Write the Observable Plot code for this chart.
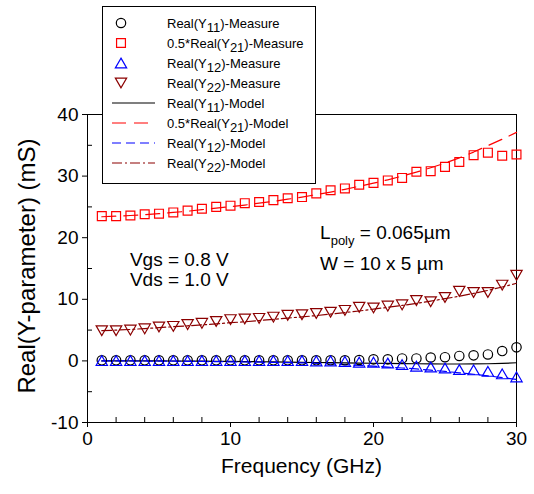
<!DOCTYPE html>
<html><head><meta charset="utf-8">
<script src="https://cdn.jsdelivr.net/npm/d3@7"></script>
<script src="https://cdn.jsdelivr.net/npm/@observablehq/plot@0.6"></script>
<style>html,body{margin:0;padding:0;background:#fff}svg{display:block}</style>
</head><body><div id="chart"></div>
<script>
// ---- data ----
const freq = [1,2,3,4,5,6,7,8,9,10,11,12,13,14,15,16,17,18,19,20,21,22,23,24,25,26,27,28,29,30];
const y11Measure = [0.1,0.1,0.1,0.1,0.1,0.1,0.1,0.1,0.1,0.1,0.1,0.1,0.1,0.1,0.1,0.1,0.1,0.1,0.15,0.25,0.25,0.4,0.4,0.55,0.6,0.8,0.9,1.05,1.6,2.2];
const y21Measure = [23.5,23.5,23.6,23.8,23.9,24.1,24.4,24.7,25.0,25.2,25.6,25.8,26.1,26.4,26.6,27.2,27.7,28.0,28.6,28.9,29.3,29.7,30.7,30.8,31.5,32.3,33.4,33.8,33.3,33.5];
const y12Measure = [0.05,0.05,0.05,0.05,0.05,0.05,0.05,0.05,0.05,0.05,0.05,0.05,0.05,0.05,0.05,0.0,0.0,-0.08,-0.2,-0.2,-0.35,-0.6,-0.85,-1.0,-1.15,-1.4,-1.45,-1.7,-2.1,-2.6];
const y22Measure = [4.9,4.9,5.0,5.2,5.5,5.6,5.9,6.1,6.4,6.7,6.8,6.9,7.1,7.4,7.5,7.7,7.9,8.2,8.7,8.6,8.9,9.1,9.8,9.6,10.3,11.3,11.1,11.1,12.3,13.9];
const y11Model = [0,0,0,0,-0.01,-0.02,-0.03,-0.05,-0.07,-0.09,-0.11,-0.14,-0.17,-0.2,-0.23,-0.26,-0.29,-0.32,-0.35,-0.38,-0.41,-0.44,-0.46,-0.48,-0.5,-0.5,-0.49,-0.46,-0.4,-0.3];
const y21Model = [23.4,23.5,23.6,23.75,23.9,24.1,24.3,24.55,24.8,25.05,25.3,25.6,25.9,26.25,26.6,27.0,27.4,27.85,28.35,28.85,29.4,30.0,30.65,31.35,32.1,32.95,33.9,34.95,36.0,37.1];
const y12Model = [0,0,-0.01,-0.02,-0.03,-0.05,-0.07,-0.09,-0.12,-0.15,-0.18,-0.21,-0.25,-0.28,-0.32,-0.4,-0.5,-0.6,-0.72,-0.85,-1.0,-1.15,-1.3,-1.5,-1.7,-1.93,-2.17,-2.43,-2.7,-3.0];
const y22Model = [4.9,5.0,5.1,5.25,5.4,5.55,5.7,5.85,6.0,6.2,6.35,6.55,6.75,6.95,7.15,7.35,7.6,7.85,8.1,8.4,8.7,9.0,9.35,9.7,10.1,10.5,10.95,11.45,12.0,12.6];

const xMajorTicks = [0,10,20,30];
const xMinorTicks = [2,4,6,8,12,14,16,18,22,24,26,28];
const yMajorTicks = [-10,0,10,20,30,40];
const yMinorTicks = [-5,5,15,25,35];

const legendLabels = [
  ["Real(Y","11",")-Measure"],
  ["0.5*Real(Y","21",")-Measure"],
  ["Real(Y","12",")-Measure"],
  ["Real(Y","22",")-Measure"],
  ["Real(Y","11",")-Model"],
  ["0.5*Real(Y","21",")-Model"],
  ["Real(Y","12",")-Model"],
  ["Real(Y","22",")-Model"]
];
const annotations = [
  {x: 3.0, y: 15.4, parts: [["Vgs = 0.8 V", false]]},
  {x: 3.0, y: 12.0, parts: [["Vds = 1.0 V", false]]},
  {x: 16.3, y: 19.7, parts: [["L", false], ["poly", true], [" = 0.065\u00b5m", false]]},
  {x: 16.3, y: 14.6, parts: [["W = 10 x 5 \u00b5m", false]]}
];

// ---- styles ----
const RED = "#ff0000", BLUE = "#0000ff", DARKRED = "#8b0000", BLACK = "#000000";
const FONT = "'Liberation Sans', Arial, Helvetica, sans-serif";
const rCircle = 4.7, rSquare = 5, rTri = 4.2;
const triShift = rTri * Math.sqrt(Math.PI / (3 * Math.sqrt(3))) / 2;

const rows = (ys) => freq.map((f, i) => ({f, v: ys[i]}));

const chart = Plot.plot({
  width: 534, height: 494,
  marginLeft: 87, marginRight: 18, marginTop: 114, marginBottom: 72,
  style: {fontFamily: FONT, fontSize: "19px", color: "black", background: "white", overflow: "visible"},
  x: {domain: [0, 30]},
  y: {domain: [-10, 40]},
  marks: [
    Plot.frame({stroke: BLACK, strokeWidth: 1}),
    Plot.axisX({ticks: xMajorTicks, tickSize: 5, tickPadding: 4, fontSize: 19, label: null, tickFormat: d => String(d)}),
    Plot.axisX({ticks: xMinorTicks, tickSize: -5, text: null, label: null}),
    Plot.axisY({ticks: yMajorTicks, tickSize: 5, tickPadding: 4, fontSize: 19, label: null, tickFormat: d => String(d)}),
    Plot.axisY({ticks: yMinorTicks, tickSize: -5, text: null, label: null}),
    Plot.line(rows(y22Model), {x: "f", y: "v", stroke: DARKRED, strokeWidth: 1.2, strokeDasharray: "10,3,2,3"}),
    Plot.line(rows(y21Model), {x: "f", y: "v", stroke: RED, strokeWidth: 1.2, strokeDasharray: "14,8"}),
    Plot.line(rows(y11Model), {x: "f", y: "v", stroke: BLACK, strokeWidth: 1.2}),
    Plot.line(rows(y12Model), {x: "f", y: "v", stroke: BLUE, strokeWidth: 1.2, strokeDasharray: "9,5"}),
    Plot.dot(rows(y21Measure), {x: "f", y: "v", symbol: "square", r: rSquare, stroke: RED, fill: "none", strokeWidth: 1.2}),
    Plot.dot(rows(y22Measure), {x: "f", y: "v", symbol: "triangle", rotate: 180, dy: -triShift, r: rTri, stroke: DARKRED, fill: "none", strokeWidth: 1.2}),
    Plot.dot(rows(y11Measure), {x: "f", y: "v", symbol: "circle", r: rCircle, stroke: BLACK, fill: "none", strokeWidth: 1.2}),
    Plot.dot(rows(y12Measure), {x: "f", y: "v", symbol: "triangle", dy: triShift, r: rTri, stroke: BLUE, fill: "none", strokeWidth: 1.2})
  ]
});
document.getElementById("chart").append(chart);

const svg = d3.select(chart);
const xs = chart.scale("x"), ys = chart.scale("y");

// axis titles
svg.append("text").attr("x", 301.5).attr("y", 473).attr("text-anchor", "middle")
  .attr("font-family", FONT).attr("font-size", 21).attr("fill", BLACK).text("Frequency (GHz)");
svg.append("text").attr("transform", "translate(35,266) rotate(-90)").attr("text-anchor", "middle")
  .attr("font-family", FONT).attr("font-size", 24).attr("fill", BLACK).text("Real(Y-parameter) (mS)");

// annotations (positioned through the plot's scales)
for (const a of annotations) {
  const t = svg.append("text").attr("x", xs.apply(a.x)).attr("y", ys.apply(a.y))
    .attr("text-anchor", "start")
    .attr("font-family", FONT).attr("font-size", 19).attr("fill", BLACK);
  let prevSub = false;
  for (const [s, sub] of a.parts) {
    const dy = sub ? 6 : (prevSub ? -6 : 0);
    const ts = t.append("tspan").attr("dy", dy).text(s);
    if (sub) ts.attr("font-size", 13);
    prevSub = sub;
  }
}

// legend
const lg = svg.append("g").attr("text-anchor", "start");
lg.append("rect").attr("x", 102.5).attr("y", 6.5).attr("width", 213).attr("height", 177)
  .attr("fill", "white").attr("stroke", BLACK).attr("stroke-width", 1);
const legendStyles = [
  {kind: "dot", sym: d3.symbolCircle, r: rCircle, color: BLACK},
  {kind: "dot", sym: d3.symbolSquare, r: rSquare, color: RED},
  {kind: "dot", sym: d3.symbolTriangle, r: rTri, color: BLUE, shift: triShift},
  {kind: "dot", sym: d3.symbolTriangle, r: rTri, color: DARKRED, rotate: 180, shift: -triShift},
  {kind: "line", color: BLACK, dash: null},
  {kind: "line", color: RED, dash: "14,8"},
  {kind: "line", color: BLUE, dash: "9,5"},
  {kind: "line", color: DARKRED, dash: "10,3,2,3"}
];
legendLabels.forEach((lab, i) => {
  const y = 23 + 20 * i;
  const st = legendStyles[i];
  if (st.kind === "dot") {
    lg.append("path").attr("d", d3.symbol(st.sym, Math.PI * st.r * st.r)())
      .attr("transform", `translate(121,${y + (st.shift || 0)}) rotate(${st.rotate || 0})`)
      .attr("fill", "none").attr("stroke", st.color).attr("stroke-width", 1.2);
  } else {
    lg.append("line").attr("x1", 112).attr("x2", 155).attr("y1", y).attr("y2", y)
      .attr("stroke", st.color).attr("stroke-width", 1.2).attr("stroke-dasharray", st.dash);
  }
  const t = lg.append("text").attr("x", 167).attr("y", y + 4.5).attr("text-anchor", "start")
    .attr("font-family", FONT).attr("font-size", 13).attr("fill", BLACK);
  t.append("tspan").text(lab[0]);
  t.append("tspan").attr("dy", 4).text(lab[1]);
  t.append("tspan").attr("dy", -4).text(lab[2]);
});
</script>
</body></html>
